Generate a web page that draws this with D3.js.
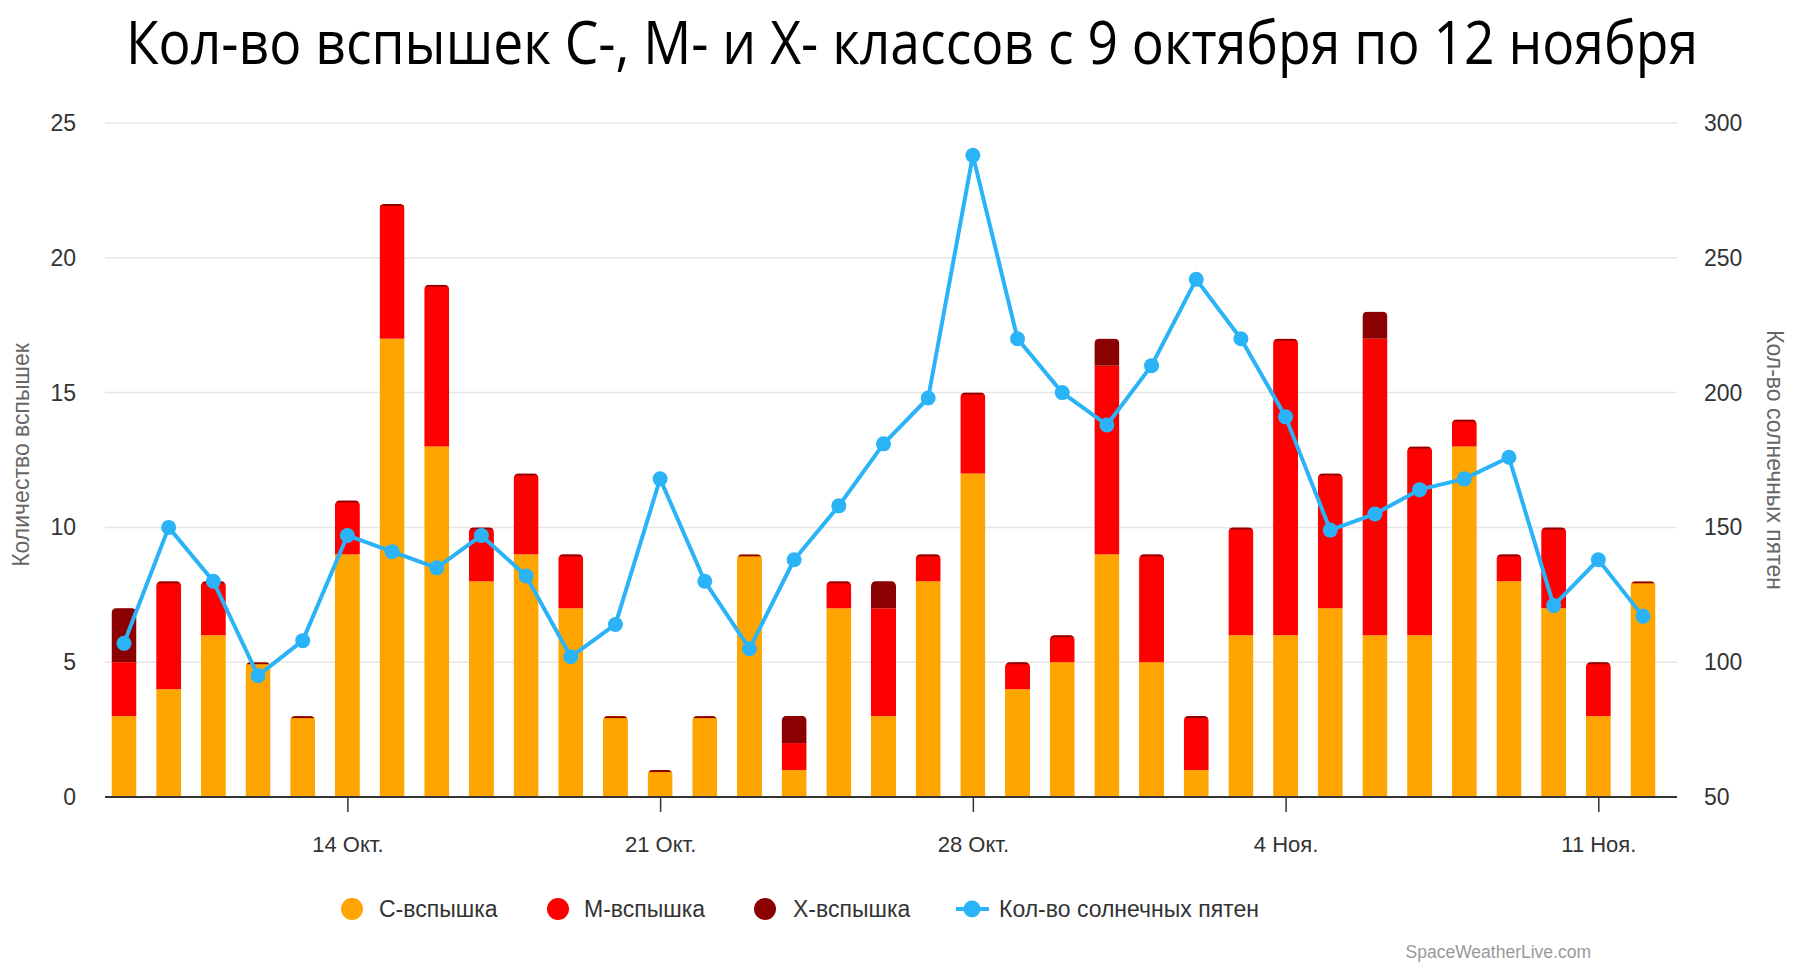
<!DOCTYPE html>
<html>
<head>
<meta charset="utf-8">
<script src="https://cdn.jsdelivr.net/npm/d3@7"></script>
<style>
  body { margin: 0; background: #fff; }
  svg { display: block; }
</style>
</head>
<body>
<div id="chart"></div>
<script>
// days from 9 Oct to 12 Nov
const startDate = new Date(2023, 9, 9);
const dates = d3.range(35).map(i => d3.timeDay.offset(startDate, i));

const cFlares = [3, 4, 6, 5, 3, 9, 17, 13, 8, 9, 7, 3, 1, 3, 9, 1, 7, 3, 8, 12, 4, 5, 9, 5, 1, 6, 6, 7, 6, 6, 13, 8, 7, 3, 8];
const mFlares = [2, 4, 2, 0, 0, 2, 5, 6, 2, 3, 2, 0, 0, 0, 0, 1, 1, 4, 1, 3, 1, 1, 7, 4, 2, 4, 11, 5, 11, 7, 1, 1, 3, 2, 0];
const xFlares = [2, 0, 0, 0, 0, 0, 0, 0, 0, 0, 0, 0, 0, 0, 0, 1, 0, 1, 0, 0, 0, 0, 1, 0, 0, 0, 0, 0, 1, 0, 0, 0, 0, 0, 0];
const sunspots = [107, 150, 130, 95, 108, 147, 141, 135, 147, 132, 102, 114, 168, 130, 105, 138, 158, 181, 198, 288,
                  220, 200, 188, 210, 242, 220, 191, 149, 155, 164, 168, 176, 121, 138, 117];

const leftTicks = [0, 5, 10, 15, 20, 25];
const rightTicks = [50, 100, 150, 200, 250, 300];
const xTickDates = [new Date(2023, 9, 14), new Date(2023, 9, 21), new Date(2023, 9, 28), new Date(2023, 10, 4), new Date(2023, 10, 11)];
const monthNames = ["Янв.", "Фев.", "Мар.", "Апр.", "Май", "Июн.", "Июл.", "Авг.", "Сен.", "Окт.", "Ноя.", "Дек."];

const seriesNames = ["С-вспышка", "М-вспышка", "Х-вспышка"];
const colors = ["#ffa500", "#ff0000", "#8b0000"];
const lineColor = "#2bb3f8";

const width = 1799, height = 973;
const plotLeft = 105, plotRight = 1677, plotTop = 123, plotBottom = 797;

const svg = d3.select("#chart").append("svg")
  .attr("width", width).attr("height", height)
  .style("font-family", "'Liberation Sans', Arial, sans-serif");

const x = d3.scaleTime()
  .domain([dates[0], dates[dates.length - 1]])
  .range([124, 1643]);
const y = d3.scaleLinear().domain([0, 25]).range([plotBottom, plotTop]);
const y2 = d3.scaleLinear().domain([50, 300]).range([plotBottom, plotTop]);

// title (narrow-looking: smaller font stretched vertically)
svg.append("text")
  .attr("transform", "translate(126,64) scale(1,1.2)")
  .attr("textLength", 1572)
  .attr("lengthAdjust", "spacingAndGlyphs")
  .style("font-family", "'Open Sans', sans-serif")
  .style("font-size", "51px")
  .attr("fill", "#000")
  .text("Кол-во вспышек С-, М- и Х- классов с 9 октября по 12 ноября");

// grid
svg.append("g")
  .selectAll("line")
  .data(leftTicks.slice(1))
  .join("line")
  .attr("x1", plotLeft).attr("x2", plotRight)
  .attr("y1", d => y(d)).attr("y2", d => y(d))
  .attr("stroke", "#e6e6e6").attr("stroke-width", 1.5);

// left axis labels
svg.append("g")
  .selectAll("text")
  .data(leftTicks)
  .join("text")
  .attr("x", 76).attr("y", d => y(d) + 8)
  .attr("text-anchor", "end")
  .style("font-size", "23px")
  .attr("fill", "#333")
  .text(d => d);

// right axis labels
svg.append("g")
  .selectAll("text")
  .data(rightTicks)
  .join("text")
  .attr("x", 1704).attr("y", d => y2(d) + 8)
  .style("font-size", "23px")
  .attr("fill", "#333")
  .text(d => d);

// axis titles
svg.append("text")
  .attr("transform", "translate(29,455) rotate(-90)")
  .attr("text-anchor", "middle")
  .style("font-size", "23px")
  .attr("fill", "#666")
  .text("Количество вспышек");

svg.append("text")
  .attr("transform", "translate(1767,460) rotate(90)")
  .attr("text-anchor", "middle")
  .style("font-size", "23px")
  .attr("fill", "#666")
  .text("Кол-во солнечных пятен");

// bars
const barW = 25;
const stacked = d3.stack().keys([0, 1, 2]).value((d, k) => d[k])(
  dates.map((d, i) => [cFlares[i], mFlares[i], xFlares[i]])
);

const defs = svg.append("defs");
dates.forEach((d, i) => {
  const total = cFlares[i] + mFlares[i] + xFlares[i];
  defs.append("clipPath").attr("id", "bar" + i)
    .append("rect")
    .attr("x", x(d) - barW / 2).attr("width", barW)
    .attr("y", y(total)).attr("height", y(0) - y(total) + 10)
    .attr("rx", 5);
});

const bars = svg.append("g");
stacked.forEach((layer, k) => {
  bars.append("g")
    .selectAll("rect")
    .data(layer)
    .join("rect")
    .attr("clip-path", (d, i) => `url(#bar${i})`)
    .attr("x", (d, i) => x(dates[i]) - barW / 2)
    .attr("width", barW)
    .attr("y", d => y(d[1]))
    .attr("height", d => y(d[0]) - y(d[1]))
    .attr("fill", colors[k]);
});

// thin dark cap on each bar
bars.append("g")
  .selectAll("rect")
  .data(dates)
  .join("rect")
  .attr("clip-path", (d, i) => `url(#bar${i})`)
  .attr("x", d => x(d) - barW / 2)
  .attr("width", barW)
  .attr("y", (d, i) => y(cFlares[i] + mFlares[i] + xFlares[i]))
  .attr("height", 2)
  .attr("fill", colors[2]);

// x axis
svg.append("line")
  .attr("x1", plotLeft).attr("x2", plotRight)
  .attr("y1", plotBottom).attr("y2", plotBottom)
  .attr("stroke", "#333").attr("stroke-width", 2);

const xAxis = svg.append("g")
  .attr("transform", `translate(0,${plotBottom})`)
  .call(d3.axisBottom(x)
    .tickValues(xTickDates)
    .tickSize(15)
    .tickPadding(24)
    .tickFormat(d => d.getDate() + " " + monthNames[d.getMonth()]));
xAxis.select(".domain").remove();
xAxis.selectAll(".tick line").attr("stroke", "#333").attr("stroke-width", 1.5);
xAxis.selectAll(".tick text")
  .style("font-size", "22px")
  .style("font-family", "'Liberation Sans', Arial, sans-serif")
  .attr("fill", "#333");

// sunspot line
const line = d3.line()
  .x((d, i) => x(dates[i]))
  .y(d => y2(d));

svg.append("path")
  .datum(sunspots)
  .attr("d", line)
  .attr("fill", "none")
  .attr("stroke", lineColor)
  .attr("stroke-width", 4)
  .attr("stroke-linejoin", "round");

svg.append("g")
  .selectAll("circle")
  .data(sunspots)
  .join("circle")
  .attr("cx", (d, i) => x(dates[i]))
  .attr("cy", d => y2(d))
  .attr("r", 7.5)
  .attr("fill", lineColor);

// legend
const legendY = 909;
const legend = svg.append("g");
const legendItems = [
  { name: seriesNames[0], color: colors[0], cx: 352, tx: 379 },
  { name: seriesNames[1], color: colors[1], cx: 558, tx: 584 },
  { name: seriesNames[2], color: colors[2], cx: 765, tx: 793 }
];
legendItems.forEach(it => {
  legend.append("circle").attr("cx", it.cx).attr("cy", legendY).attr("r", 11).attr("fill", it.color);
  legend.append("text").attr("x", it.tx).attr("y", legendY + 8)
    .style("font-size", "23px").attr("fill", "#333").text(it.name);
});
legend.append("line").attr("x1", 956).attr("x2", 989).attr("y1", legendY).attr("y2", legendY)
  .attr("stroke", lineColor).attr("stroke-width", 4);
legend.append("circle").attr("cx", 972).attr("cy", legendY).attr("r", 8.5).attr("fill", lineColor);
legend.append("text").attr("x", 999).attr("y", legendY + 8)
  .style("font-size", "23px").attr("fill", "#333").text("Кол-во солнечных пятен");

// watermark
svg.append("text")
  .attr("x", 1591).attr("y", 958)
  .attr("text-anchor", "end")
  .style("font-size", "17.5px")
  .attr("fill", "#999")
  .text("SpaceWeatherLive.com");
</script>
</body>
</html>
